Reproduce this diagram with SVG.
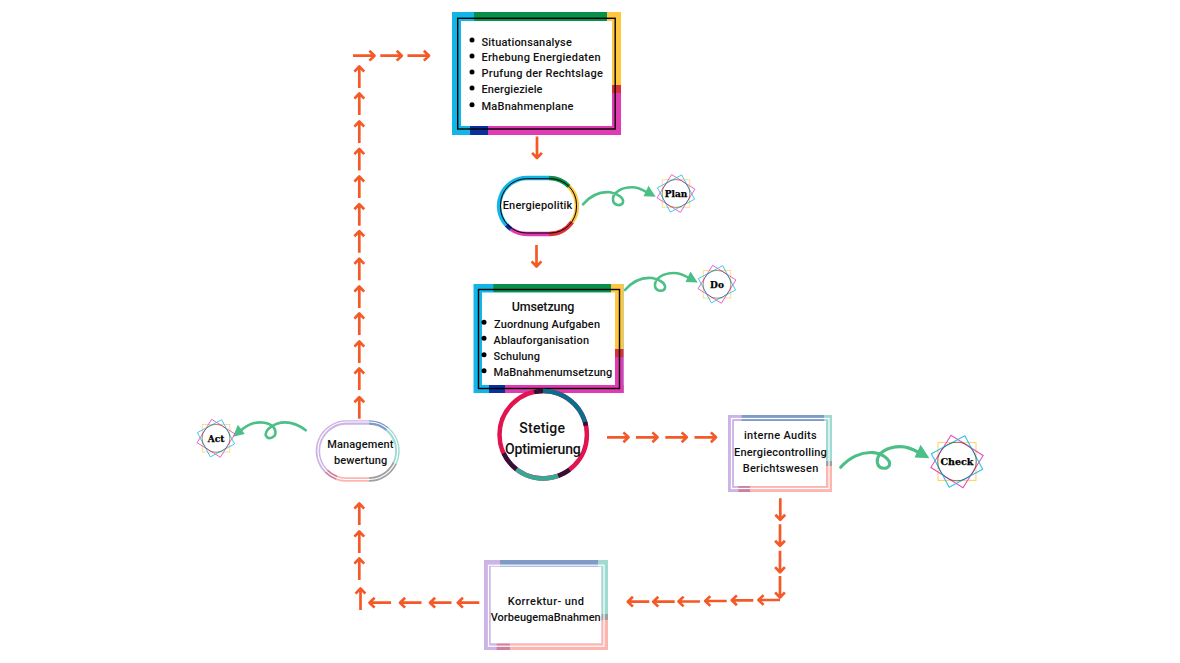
<svg xmlns="http://www.w3.org/2000/svg" width="1180" height="663" viewBox="0 0 1180 663">
<style>
text{font-family:Roboto,"Liberation Sans",sans-serif;font-weight:500;font-size:11px;fill:#111}
.big{font-size:12.5px}
.huge{font-size:14px}
.star{font-family:"DejaVu Serif",serif;font-weight:700;font-size:9px;fill:#000;stroke:#000;stroke-width:.25;text-anchor:middle}
.blue{fill:#12b5e5}.green{fill:#0a8f4a}.yellow{fill:#ffc63f}.red{fill:#dc3038}.mag{fill:#e03bb0}.navy{fill:#0a2f9e}
.lav{fill:#cdb4e6}.steel{fill:#7f9bc6}.teal{fill:#9fdbd2}.grey{fill:#a0a0a0}.pink{fill:#fdb5b0}.rose{fill:#cf7f9f}
.arc{fill:none;stroke-width:4.5}
.arrow{fill:none;stroke:#f45a27;stroke-width:2.7;stroke-linejoin:round}
.curl{fill:none;stroke:#4cbf87;stroke-width:2.6;stroke-linecap:round}
.head{fill:#4cbf87;stroke:none}
.blk{fill:none;stroke:#000;stroke-width:1.4}
.blk2{fill:none;stroke:#000;stroke-width:1}
.wht{fill:none;stroke:#fff;stroke-width:1.2}
</style>
<defs>
<g id="a"><path d="M0 0H21M16.400-4.900L21.500 0L16.400 4.900"/></g>
<g id="curlmark">
<path class="curl" d="M0 0C7-8 17-13 27-12C35-11 41-6 40-2C39 2 31 2 30-4C29-12 39-17 49-17C55-17 59-15 64-12"/>
<path class="head" d="M60.500-8L65.500-18.500L72.700-7.500Z"/>
</g>
<g id="star">
<rect x="-13.750" y="-13.750" width="27.500" height="27.500" fill="none" stroke="#ffd56a" stroke-width=".8"/>
<rect x="-13.750" y="-13.750" width="27.500" height="27.500" fill="none" stroke="#e84fc0" stroke-width=".8" transform="rotate(32)"/>
<rect x="-13.750" y="-13.750" width="27.500" height="27.500" fill="none" stroke="#2fc0ec" stroke-width=".8" transform="rotate(-28)"/>
<circle r="14" fill="none" stroke="#222" stroke-width=".4"/>
</g>
</defs>

<g id="connectors" class="arrow">
<use href="#a" transform="translate(353,55.700)"/>
<use href="#a" transform="translate(380.300,55.700)"/>
<use href="#a" transform="translate(407.500,55.700)"/>
<use href="#a" transform="translate(359.300,88) rotate(-90)"/>
<use href="#a" transform="translate(359.300,115) rotate(-90)"/>
<use href="#a" transform="translate(359.300,143) rotate(-90)"/>
<use href="#a" transform="translate(359.300,170.500) rotate(-90)"/>
<use href="#a" transform="translate(359.300,198) rotate(-90)"/>
<use href="#a" transform="translate(359.300,225.700) rotate(-90)"/>
<use href="#a" transform="translate(359.300,252.700) rotate(-90)"/>
<use href="#a" transform="translate(359.300,280.300) rotate(-90)"/>
<use href="#a" transform="translate(359.300,308) rotate(-90)"/>
<use href="#a" transform="translate(359.300,335) rotate(-90)"/>
<use href="#a" transform="translate(359.300,363) rotate(-90)"/>
<use href="#a" transform="translate(359.300,390) rotate(-90)"/>
<use href="#a" transform="translate(359.300,418.700) rotate(-90)"/>
<use href="#a" transform="translate(359.300,525) rotate(-90)"/>
<use href="#a" transform="translate(359.300,553) rotate(-90)"/>
<use href="#a" transform="translate(359.300,580) rotate(-90)"/>
<use href="#a" transform="translate(360.500,610) rotate(-90)"/>
<use href="#a" transform="translate(537,136.500) rotate(90)"/>
<use href="#a" transform="translate(536.500,245) rotate(90)"/>
<use href="#a" transform="translate(607,437.300)"/>
<use href="#a" transform="translate(636,437.300)"/>
<use href="#a" transform="translate(665.300,437.300)"/>
<use href="#a" transform="translate(694.500,437.300)"/>
<use href="#a" transform="translate(780.300,498.300) rotate(90)"/>
<use href="#a" transform="translate(780,524.300) rotate(90)"/>
<use href="#a" transform="translate(780,550.700) rotate(90)"/>
<use href="#a" transform="translate(780,576) rotate(90)"/>
<use href="#a" transform="translate(780,600) rotate(180)"/>
<use href="#a" transform="translate(753.300,600.300) rotate(180)"/>
<use href="#a" transform="translate(726.700,601) rotate(180)"/>
<use href="#a" transform="translate(700,601.500) rotate(180)"/>
<use href="#a" transform="translate(674.700,601.700) rotate(180)"/>
<use href="#a" transform="translate(649.300,601.700) rotate(180)"/>
<use href="#a" transform="translate(479.300,602.700) rotate(180)"/>
<use href="#a" transform="translate(451.500,602.700) rotate(180)"/>
<use href="#a" transform="translate(421.500,602.700) rotate(180)"/>
<use href="#a" transform="translate(391,602.700) rotate(180)"/>
<use href="#curlmark" transform="translate(583,204.300)"/>
<use href="#curlmark" transform="translate(625,290)"/>
<use href="#curlmark" transform="translate(840.700,467.300) scale(1.220)"/>
<use href="#curlmark" transform="translate(305.700,430.300) scale(-1,1) rotate(11)"/>
</g>

<g id="situationsanalyse">
<rect class="blue" x="452" y="12" width="169" height="123"/>
<rect class="green" x="474" y="12" width="133" height="9"/>
<rect class="yellow" x="607" y="12" width="14" height="73"/>
<rect class="mag" x="470" y="126" width="151" height="9"/>
<rect class="mag" x="612" y="93" width="9" height="42"/>
<rect class="red" x="612" y="85" width="9" height="8"/>
<rect class="navy" x="470" y="126" width="18" height="9"/>
<rect x="461" y="21" width="151" height="105" fill="#fff"/>
<rect class="blk" x="457.700" y="18.300" width="157.500" height="110.700"/>
<circle cx="472" cy="40" r="2.500"/><circle cx="472" cy="56" r="2.500"/><circle cx="472" cy="72" r="2.500"/><circle cx="472" cy="88" r="2.500"/><circle cx="472" cy="104.700" r="2.500"/>
<text x="481.500" y="45.500" textLength="90.300">Situationsanalyse</text>
<text x="481.500" y="61" textLength="119">Erhebung Energiedaten</text>
<text x="481.500" y="77" textLength="121.300">Prufung der Rechtslage</text>
<text x="481.500" y="93" textLength="61">Energieziele</text>
<text x="481.500" y="110" textLength="92">MaBnahmenplane</text>
</g>

<g id="energiepolitik">
<path class="arc" stroke="#12b5e5" d="M506.500 225A28 28 0 0 1 527 178H549"/>
<path class="arc" stroke="#0a8f4a" d="M549 178A28 28 0 0 1 569 186.500"/>
<path class="arc" stroke="#ffc63f" d="M569 186.500A28 28 0 0 1 572 222"/>
<path class="arc" stroke="#dc3038" d="M572 222A28 28 0 0 1 549 234"/>
<path class="arc" stroke="#e03bb0" d="M549 234H527A28 28 0 0 1 511 229"/>
<path class="arc" stroke="#0a2f9e" d="M511 229A28 28 0 0 1 506.500 225"/>
<rect class="blk2" x="500.500" y="178.700" width="76" height="54.300" rx="26" ry="26"/>
<text x="502.700" y="209.300" textLength="69.600">Energiepolitik</text>
</g>

<g id="plan">
<use href="#star" transform="translate(676,193.500)"/>
<text class="star" x="676" y="196.800">Plan</text>
</g>

<g id="umsetzung">
<rect class="blue" x="473.500" y="284" width="150" height="109"/>
<rect class="green" x="493.300" y="284" width="117.700" height="8.500"/>
<rect class="yellow" x="611" y="284" width="12.500" height="65"/>
<rect class="mag" x="489" y="385" width="134.500" height="8"/>
<rect class="mag" x="615" y="357" width="8.500" height="36"/>
<rect class="red" x="615" y="349" width="8.500" height="8"/>
<rect class="navy" x="489" y="385" width="16" height="8"/>
<rect x="482" y="292.500" width="133" height="92.500" fill="#fff"/>
<rect class="blk" x="478.500" y="289.500" width="141" height="99"/>
<circle cx="484" cy="322.300" r="2.500"/><circle cx="484" cy="338.300" r="2.500"/><circle cx="484" cy="354.700" r="2.500"/><circle cx="484" cy="370.700" r="2.500"/>
<text class="big" x="511.700" y="310.700" textLength="62.600">Umsetzung</text>
<text x="494" y="327.700" textLength="106">Zuordnung Aufgaben</text>
<text x="493.500" y="344" textLength="95.500">Ablauforganisation</text>
<text x="493.500" y="360" textLength="46.500">Schulung</text>
<text x="493.500" y="376" textLength="118.800">MaBnahmenumsetzung</text>
</g>

<g id="do">
<use href="#star" transform="translate(717,284.300)"/>
<text class="star" x="717" y="287.600">Do</text>
</g>

<g id="stetige-optimierung">
<circle cx="543.200" cy="434.800" r="43.700" fill="#fff" stroke="#e0154f" stroke-width="4.500"/>
<path class="arc" stroke="#2f1236" d="M534.100 392.100A43.700 43.700 0 0 1 543.200 391.100"/>
<path class="arc" stroke="#0b6e8c" d="M543.200 391.100A43.700 43.700 0 0 1 585 422"/>
<path class="arc" stroke="#2f1236" d="M585 422A43.700 43.700 0 0 1 585.900 425.700"/>
<path class="arc" stroke="#2f1236" d="M569.500 469.700A43.700 43.700 0 0 1 558.100 475.900"/>
<path class="arc" stroke="#37a896" d="M558.100 475.900A43.700 43.700 0 0 1 516.300 469.200"/>
<path class="arc" stroke="#2f1236" d="M516.300 469.200A43.700 43.700 0 0 1 503.600 453.300"/>
<text class="huge" x="519.300" y="433.300" textLength="45.700">Stetige</text>
<text class="huge" x="505" y="454" textLength="75.700">Optimierung</text>
</g>

<g id="audits">
<rect class="lav" x="728" y="415" width="104" height="77"/>
<rect class="steel" x="741.700" y="415" width="82.300" height="6"/>
<rect class="teal" x="824" y="415" width="8" height="6"/>
<rect class="teal" x="826" y="415" width="6" height="46"/>
<rect class="pink" x="738" y="486" width="94" height="6"/>
<rect class="pink" x="826" y="466" width="6" height="26"/>
<rect class="grey" x="826" y="461" width="6" height="5"/>
<rect class="rose" x="738.300" y="486" width="11.700" height="6"/>
<rect x="734" y="421" width="92" height="65" fill="#fff"/>
<rect class="wht" x="731.500" y="418.500" width="97.500" height="70"/>
<text x="744" y="439" textLength="72.700">interne Audits</text>
<text x="734" y="455.700" textLength="92.700">Energiecontrolling</text>
<text x="742.700" y="471.700" textLength="75.600">Berichtswesen</text>
</g>

<g id="check">
<use href="#star" transform="translate(957,461.500) scale(1.380)"/>
<text class="star" x="957" y="465" style="font-size:9.500px">Check</text>
</g>

<g id="korrektur">
<rect class="lav" x="484" y="560" width="124" height="90"/>
<rect class="steel" x="500" y="560" width="98" height="6.700"/>
<rect class="teal" x="598" y="560" width="10" height="6.700"/>
<rect class="teal" x="601.300" y="560" width="6.700" height="54"/>
<rect class="pink" x="497" y="643.300" width="111" height="6.700"/>
<rect class="pink" x="601.300" y="620" width="6.700" height="30"/>
<rect class="grey" x="601.300" y="614" width="6.700" height="6"/>
<rect class="rose" x="496.700" y="643.300" width="13.300" height="6.700"/>
<rect x="490.700" y="566.700" width="110.600" height="76.600" fill="#fff"/>
<rect class="wht" x="488.500" y="565.200" width="115.500" height="81"/>
<text x="507.700" y="605" textLength="76.300">Korrektur- und</text>
<text x="490.700" y="620.700" textLength="110">VorbeugemaBnahmen</text>
</g>

<g id="management">
<path class="arc" stroke="#cdb4e6" d="M326.300 471.200A28.500 28.500 0 0 1 346.500 422.500H369"/>
<path class="arc" stroke="#7f9bc6" d="M369 422.500A28.500 28.500 0 0 1 387.300 429.200"/>
<path class="arc" stroke="#9fdbd2" d="M387.300 429.200A28.500 28.500 0 0 1 394.800 463"/>
<path class="arc" stroke="#a0a0a0" d="M394.800 463A28.500 28.500 0 0 1 369 479.500"/>
<path class="arc" stroke="#fdb5b0" d="M369 479.500H346.500A28.500 28.500 0 0 1 336.800 477.800"/>
<path class="arc" stroke="#cf7f9f" d="M336.800 477.800A28.500 28.500 0 0 1 326.300 471.200"/>
<rect class="wht" x="318" y="422" width="79.700" height="57.500" rx="28.700" ry="28.700"/>
<text x="327.300" y="447.700" textLength="66">Management</text>
<text x="334" y="464.300" textLength="53.300">bewertung</text>
</g>

<g id="act">
<use href="#star" transform="translate(216,438.300)"/>
<text class="star" x="216" y="441.600">Act</text>
</g>
</svg>
